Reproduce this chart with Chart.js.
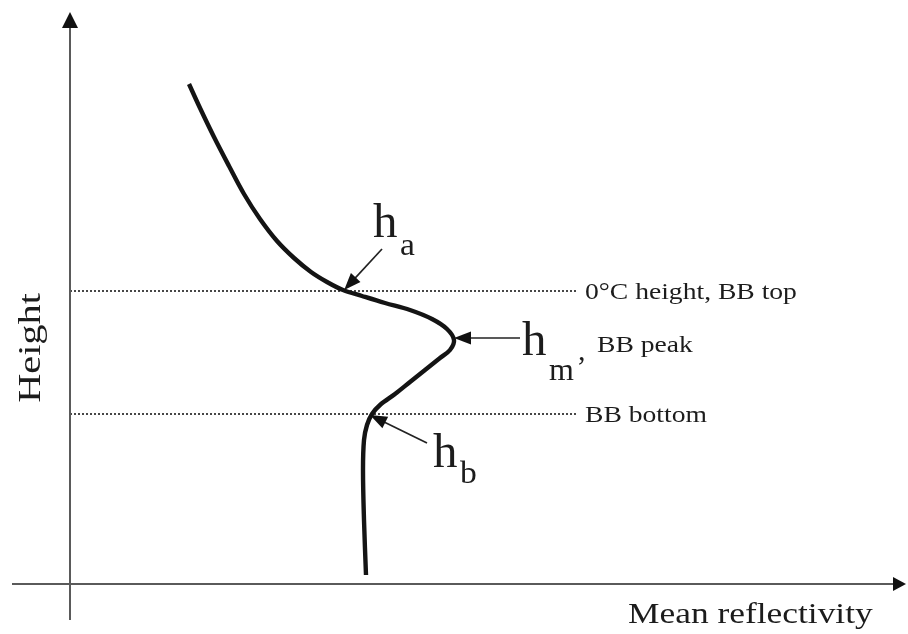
<!DOCTYPE html>
<html>
<head>
<meta charset="utf-8">
<title>Bright band reflectivity profile</title>
<script src="https://cdn.jsdelivr.net/npm/chart.js@4/dist/chart.umd.min.js"></script>
<style>
  html, body { margin: 0; padding: 0; background: #ffffff; }
  #wrap { width: 908px; height: 634px; }
</style>
</head>
<body>
<div id="wrap"><canvas id="chart" width="908" height="634"></canvas></div>
<script>
// Schematic vertical profile of mean reflectivity through the melting layer
// (arbitrary units: reflectivity on x, height on y).
const profileReflectivity = [11.9, 13.0, 14.4, 15.9, 17.4, 19.0, 20.7, 22.4, 24.1, 25.7, 27.3, 29.2, 31.5, 34.0, 36.2, 37.7, 38.4, 38.0, 37.0, 35.5, 34.0, 32.5, 31.0, 30.2, 29.7, 29.4, 29.3, 29.4, 29.6];
const profileHeight       = [50.0, 47.6, 44.7, 41.8, 39.0, 36.5, 34.3, 32.6, 31.2, 30.2, 29.4, 28.8, 28.1, 27.4, 26.5, 25.5, 24.4, 23.4, 22.6, 21.4, 20.2, 19.0, 17.9, 17.0, 15.9, 14.4, 11.4, 6.4, 0.9];

// Bright band levels
const bbTopHeight = 29.3;      // 0°C height, BB top
const bbPeakHeight = 24.4;     // h_m
const bbBottomHeight = 17.0;   // BB bottom
const levelLineEnd = 50.8;     // reflectivity where the dotted level lines stop

// Axis titles and level labels
const xTitle = 'Mean reflectivity';
const yTitle = 'Height';
const levelLabels = ['0°C height, BB top', 'BB peak', 'BB bottom'];

const profile = profileReflectivity.map((x, i) => ({ x, y: profileHeight[i] }));

// Layout of axes and annotations, in data units
const layout = {
  xRange: [-7, 83.8],
  yRange: [-5, 58.4],
  xAxisFrom: -5.8, xAxisTip: 83.6,
  yAxisFrom: -3.6, yAxisTip: 57.2,
  serif: '"Liberation Serif", "Times New Roman", Times, serif'
};

function crossingX(level) {
  // reflectivity where the profile crosses a given height on its upper branch
  for (let i = 0; i < profile.length - 1; i++) {
    const a = profile[i], b = profile[i + 1];
    if ((a.y - level) * (b.y - level) <= 0 && a.y !== b.y) {
      return a.x + (level - a.y) / (b.y - a.y) * (b.x - a.x);
    }
  }
  return 0;
}
function lowerCrossingX(level) {
  for (let i = profile.length - 1; i > 0; i--) {
    const a = profile[i], b = profile[i - 1];
    if ((a.y - level) * (b.y - level) <= 0 && a.y !== b.y) {
      return a.x + (level - a.y) / (b.y - a.y) * (b.x - a.x);
    }
  }
  return 0;
}
const peakReflectivity = Math.max(...profileReflectivity);

function arrowHead(ctx, x0, y0, x1, y1, len, half) {
  const ang = Math.atan2(y1 - y0, x1 - x0);
  ctx.beginPath();
  ctx.moveTo(x1, y1);
  ctx.lineTo(x1 - len * Math.cos(ang) + half * Math.sin(ang), y1 - len * Math.sin(ang) - half * Math.cos(ang));
  ctx.lineTo(x1 - len * Math.cos(ang) - half * Math.sin(ang), y1 - len * Math.sin(ang) + half * Math.cos(ang));
  ctx.closePath();
  ctx.fill();
}

function text(ctx, str, px, py, size, stretch, rotate) {
  ctx.save();
  ctx.translate(px, py);
  if (rotate) ctx.rotate(rotate);
  ctx.scale(stretch, 1);
  ctx.font = size + 'px ' + layout.serif;
  ctx.fillText(str, 0, 0);
  ctx.restore();
}

const annotationPlugin = {
  id: 'profileAnnotations',
  afterDatasetsDraw(chart) {
    const ctx = chart.ctx;
    const xs = chart.scales.x, ys = chart.scales.y;
    const X = v => xs.getPixelForValue(v);
    const Y = v => ys.getPixelForValue(v);
    ctx.save();

    // axes with arrowheads
    ctx.strokeStyle = '#5a5a5a';
    ctx.fillStyle = '#111';
    ctx.lineWidth = 2;
    ctx.beginPath();
    ctx.moveTo(X(0), Y(layout.yAxisFrom));
    ctx.lineTo(X(0), Y(layout.yAxisTip) + 10);
    ctx.moveTo(X(layout.xAxisFrom), Y(0));
    ctx.lineTo(X(layout.xAxisTip) - 8, Y(0));
    ctx.stroke();
    arrowHead(ctx, X(0), Y(0), X(0), Y(layout.yAxisTip), 16, 8);
    arrowHead(ctx, X(0), Y(0), X(layout.xAxisTip), Y(0), 13, 7);

    // pointer arrows to the bright band features
    ctx.strokeStyle = '#222';
    ctx.fillStyle = '#111';
    ctx.lineWidth = 1.7;
    const pointers = [
      [31.2, 33.5, crossingX(bbTopHeight) - 0.2, bbTopHeight + 0.1],
      [45.0, bbPeakHeight + 0.2, peakReflectivity, bbPeakHeight + 0.2],
      [35.7, 14.1, lowerCrossingX(bbBottomHeight) - 0.2, bbBottomHeight - 0.1]
    ];
    pointers.forEach(([x0, y0, x1, y1]) => {
      const p0x = X(x0), p0y = Y(y0), p1x = X(x1), p1y = Y(y1);
      const ang = Math.atan2(p1y - p0y, p1x - p0x);
      ctx.beginPath();
      ctx.moveTo(p0x, p0y);
      ctx.lineTo(p1x - 10 * Math.cos(ang), p1y - 10 * Math.sin(ang));
      ctx.stroke();
      arrowHead(ctx, p0x, p0y, p1x, p1y, 17, 6.5);
    });

    // symbols h_a, h_m, h_b
    ctx.fillStyle = '#1c1c1c';
    ctx.textBaseline = 'alphabetic';
    ctx.textAlign = 'left';
    text(ctx, 'h', X(30.3), Y(34.7), 48, 1.02);
    text(ctx, 'a', X(33.0), Y(32.9), 32, 1.05);
    text(ctx, 'h', X(45.2), Y(22.9), 48, 1.02);
    text(ctx, 'm', X(47.9), Y(20.4), 32, 1.0);
    text(ctx, ',', X(50.8), Y(22.4), 30, 1.0);
    text(ctx, 'h', X(36.3), Y(11.7), 48, 1.02);
    text(ctx, 'b', X(39.0), Y(10.1), 32, 1.05);

    // level labels
    text(ctx, levelLabels[0], X(51.5), Y(28.5), 24, 1.15);
    text(ctx, levelLabels[1], X(52.7), Y(23.2), 24, 1.15);
    text(ctx, levelLabels[2], X(51.5), Y(16.2), 24, 1.15);

    // axis titles
    text(ctx, xTitle, X(55.8), Y(-3.9), 30, 1.18);
    ctx.textAlign = 'center';
    text(ctx, yTitle, X(-3.0), Y(23.6), 32, 1.26, -Math.PI / 2);

    ctx.restore();
  }
};

new Chart(document.getElementById('chart'), {
  type: 'scatter',
  data: {
    datasets: [
      {
        label: 'Mean reflectivity profile',
        data: profile,
        showLine: true,
        tension: 0.35,
        borderColor: '#141414',
        borderWidth: 4.4,
        borderCapStyle: 'butt',
        borderJoinStyle: 'round',
        pointRadius: 0,
        fill: false
      },
      {
        label: levelLabels[0],
        data: [{ x: 0, y: bbTopHeight }, { x: levelLineEnd, y: bbTopHeight }],
        showLine: true,
        borderColor: '#333',
        borderWidth: 1.8,
        borderDash: [2, 2],
        pointRadius: 0
      },
      {
        label: levelLabels[2],
        data: [{ x: 0, y: bbBottomHeight }, { x: levelLineEnd, y: bbBottomHeight }],
        showLine: true,
        borderColor: '#333',
        borderWidth: 1.8,
        borderDash: [2, 2],
        pointRadius: 0
      }
    ]
  },
  options: {
    responsive: false,
    animation: false,
    layout: { padding: 0 },
    plugins: { legend: { display: false }, tooltip: { enabled: false } },
    scales: {
      x: { type: 'linear', min: layout.xRange[0], max: layout.xRange[1], display: false },
      y: { type: 'linear', min: layout.yRange[0], max: layout.yRange[1], display: false }
    }
  },
  plugins: [annotationPlugin]
});
</script>
</body>
</html>
